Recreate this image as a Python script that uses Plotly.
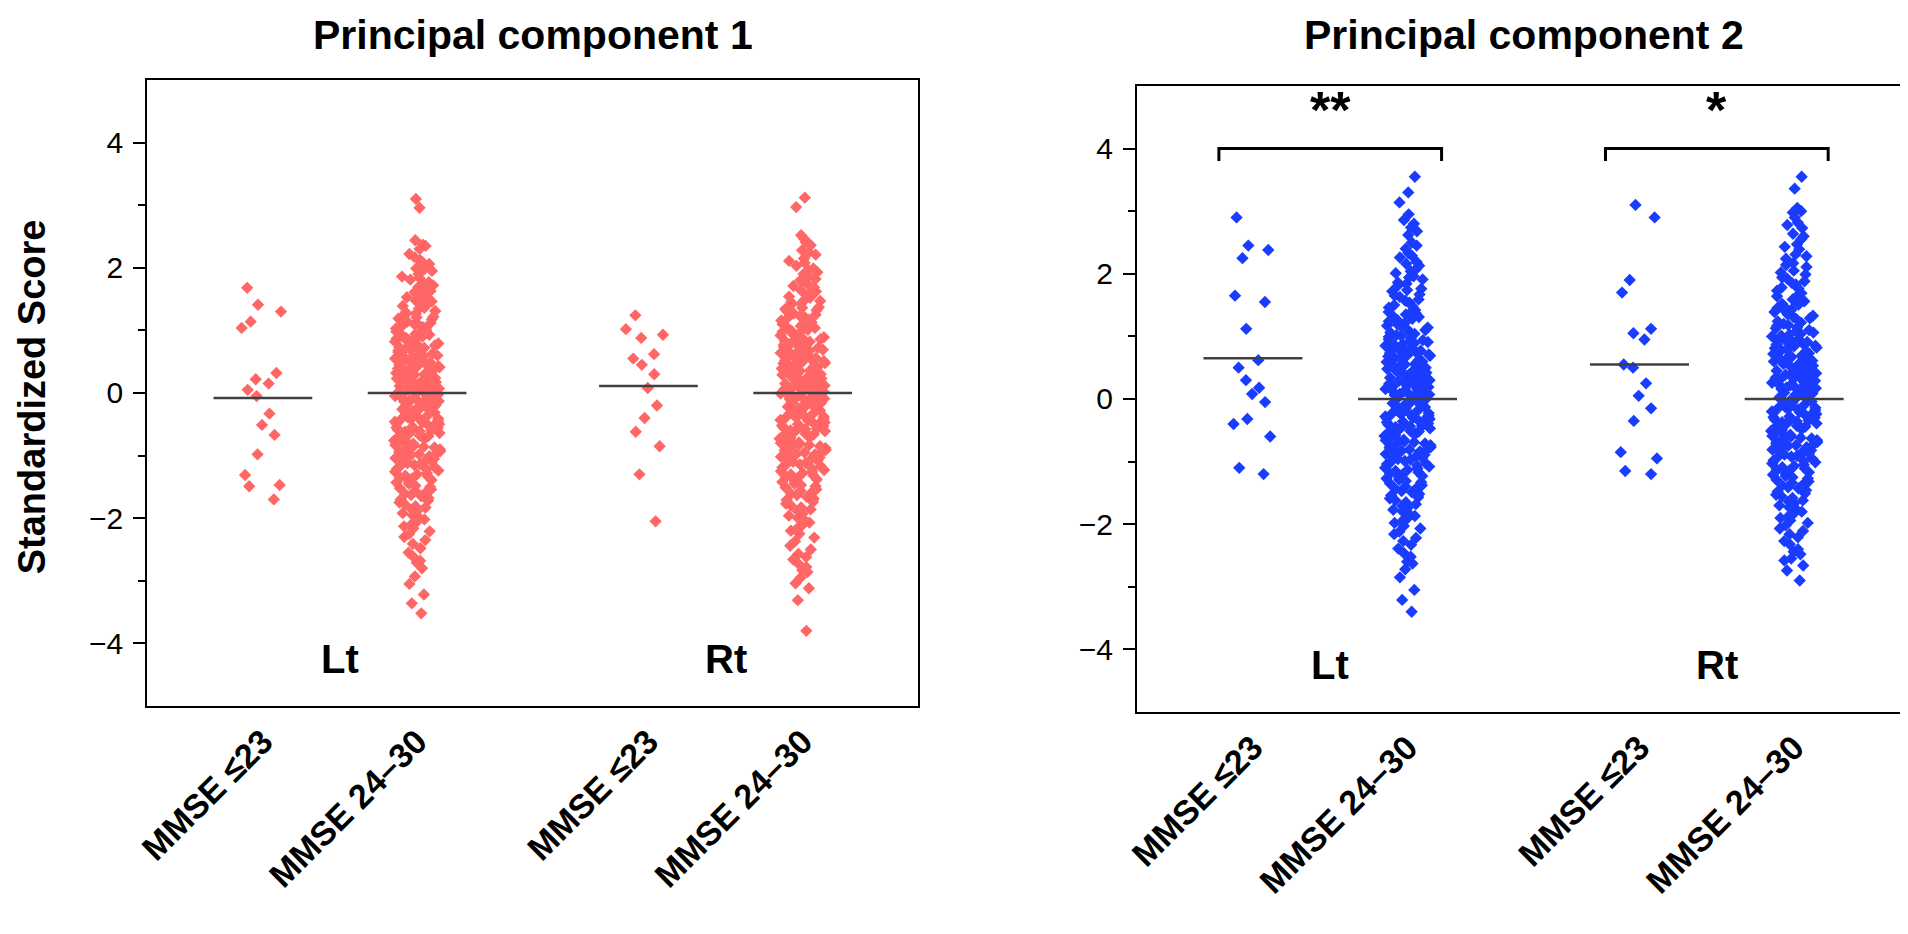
import plotly.graph_objects as go
from plotly.subplots import make_subplots

# group labels (per panel)
groups = ["MMSE ≤23", "MMSE 24–30", "MMSE ≤23", "MMSE 24–30"]
sides = ["Lt", "Rt"]
panel_titles = ["Principal component 1", "Principal component 2"]

# ---- Principal component 1 ----
pc1_lt_low = [1.68, 1.41, 1.30, 1.14, 1.04, 0.32, 0.22, 0.15, 0.05, -0.05,
              -0.33, -0.51, -0.67, -0.98, -1.31, -1.47, -1.49, -1.70]
pc1_lt_norm = [3.10, 2.96, 2.44, 2.37, 2.30, 2.22, 2.17, 2.10, 2.06, 1.99,
               1.95, 1.90, 1.84, 1.81, 1.76, 1.72, 1.66, 1.63, 1.59, 1.55,
               1.50, 1.48, 1.43, 1.39, 1.36, 1.31, 1.29, 1.25, 1.21, 1.18,
               1.16, 1.12, 1.08, 1.05, 1.03, 0.99, 0.96, 0.93, 0.91, 0.87,
               0.84, 0.82, 0.79, 0.76, 0.73, 0.71, 0.68, 0.66, 0.63, 0.60,
               0.58, 0.55, 0.53, 0.50, 0.48, 0.46, 0.43, 0.41, 0.38, 0.36,
               0.34, 0.31, 0.29, 0.27, 0.24, 0.22, 0.20, 0.17, 0.15, 0.13,
               0.11, 0.08, 0.06, 0.04, 0.02, -0.01, -0.03, -0.05, -0.07, -0.10,
               -0.12, -0.14, -0.16, -0.19, -0.21, -0.23, -0.26, -0.28, -0.30, -0.33,
               -0.35, -0.37, -0.40, -0.42, -0.45, -0.47, -0.50, -0.52, -0.55, -0.57,
               -0.60, -0.62, -0.65, -0.68, -0.70, -0.73, -0.76, -0.78, -0.81, -0.84,
               -0.87, -0.90, -0.93, -0.96, -0.99, -1.02, -1.05, -1.09, -1.12, -1.15,
               -1.19, -1.22, -1.26, -1.30, -1.33, -1.37, -1.41, -1.45, -1.50, -1.54,
               -1.58, -1.63, -1.68, -1.72, -1.78, -1.83, -1.89, -1.95, -2.02, -2.09,
               -2.16, -2.25, -2.35, -2.48, -2.62, -2.71, -2.80, -2.93, -3.05, -3.22,
               -3.36, -3.52,
               2.35, 2.12, 1.98, 1.86, 1.77, 1.69, 1.61, 1.53, 1.46, 1.41,
               1.35, 1.27, 1.22, 1.19, 1.14, 1.10, 1.06, 1.01, 0.98, 0.94,
               0.90, 0.88, 0.85, 0.81, 0.77, 0.74, 0.72, 0.69, 0.65, 0.62,
               0.59, 0.57, 0.54, 0.52, 0.49, 0.45, 0.42, 0.39, 0.37, 0.35,
               0.32, 0.30, 0.28, 0.25, 0.23, 0.21, 0.18, 0.16, 0.14, 0.12,
               0.09, 0.07, 0.05, 0.03, 0.01, -0.02, -0.04, -0.06, -0.08, -0.11,
               -0.13, -0.15, -0.18, -0.20, -0.22, -0.24, -0.27, -0.29, -0.31, -0.34,
               -0.36, -0.39, -0.41, -0.44, -0.46, -0.49, -0.51, -0.54, -0.56, -0.59,
               -0.61, -0.64, -0.67, -0.69, -0.72, -0.75, -0.77, -0.80, -0.83, -0.86,
               -0.89, -0.92, -0.95, -0.98, -1.01, -1.04, -1.07, -1.10, -1.14, -1.17,
               -1.21, -1.24, -1.28, -1.32, -1.35, -1.39, -1.43, -1.48, -1.52, -1.56,
               -1.61, -1.65, -1.70, -1.75, -1.81, -1.86, -1.92, -1.99, -2.06, -2.13,
               -2.21, -2.30, -2.41, -2.55, -2.68]
pc1_rt_low = [1.24, 1.02, 0.93, 0.88, 0.62, 0.55, 0.45, 0.30, 0.08, -0.20,
              -0.40, -0.62, -0.85, -1.30, -2.05]
pc1_rt_norm = [3.12, 2.97, 2.52, 2.41, 2.36, 2.28, 2.21, 2.15, 2.08, 2.03,
               1.97, 1.93, 1.87, 1.82, 1.78, 1.73, 1.69, 1.64, 1.60, 1.56,
               1.52, 1.49, 1.45, 1.41, 1.37, 1.34, 1.30, 1.27, 1.23, 1.20,
               1.17, 1.13, 1.10, 1.07, 1.04, 1.01, 0.98, 0.95, 0.92, 0.89,
               0.86, 0.83, 0.80, 0.77, 0.75, 0.72, 0.69, 0.66, 0.64, 0.61,
               0.59, 0.56, 0.53, 0.51, 0.48, 0.46, 0.43, 0.41, 0.39, 0.36,
               0.34, 0.31, 0.29, 0.26, 0.24, 0.22, 0.19, 0.17, 0.14, 0.12,
               0.10, 0.07, 0.05, 0.03, 0.00, -0.02, -0.04, -0.07, -0.09, -0.11,
               -0.14, -0.16, -0.18, -0.21, -0.23, -0.25, -0.28, -0.30, -0.33, -0.35,
               -0.38, -0.40, -0.43, -0.45, -0.48, -0.50, -0.53, -0.55, -0.58, -0.61,
               -0.63, -0.66, -0.69, -0.72, -0.74, -0.77, -0.80, -0.83, -0.86, -0.89,
               -0.92, -0.95, -0.98, -1.02, -1.05, -1.08, -1.12, -1.15, -1.19, -1.23,
               -1.26, -1.30, -1.34, -1.38, -1.42, -1.47, -1.51, -1.56, -1.61, -1.66,
               -1.71, -1.77, -1.83, -1.89, -1.96, -2.03, -2.11, -2.20, -2.31, -2.44,
               -2.57, -2.66, -2.78, -2.86, -2.95, -3.04, -3.12, -3.31, -3.80,
               2.46, 2.25, 2.11, 1.99, 1.90, 1.80, 1.71, 1.62, 1.54, 1.47,
               1.43, 1.36, 1.32, 1.25, 1.21, 1.16, 1.11, 1.08, 1.03, 0.99,
               0.96, 0.91, 0.87, 0.84, 0.82, 0.78, 0.74, 0.71, 0.67, 0.65,
               0.62, 0.58, 0.55, 0.52, 0.50, 0.47, 0.44, 0.42, 0.38, 0.35,
               0.33, 0.30, 0.27, 0.25, 0.23, 0.20, 0.18, 0.15, 0.13, 0.11,
               0.08, 0.06, 0.04, 0.02, -0.01, -0.03, -0.05, -0.08, -0.10, -0.12,
               -0.15, -0.17, -0.19, -0.22, -0.24, -0.26, -0.29, -0.31, -0.34, -0.36,
               -0.39, -0.42, -0.44, -0.47, -0.49, -0.52, -0.54, -0.57, -0.60, -0.62,
               -0.65, -0.68, -0.70, -0.73, -0.76, -0.79, -0.82, -0.85, -0.88, -0.91,
               -0.94, -0.97, -1.00, -1.03, -1.07, -1.10, -1.14, -1.17, -1.21, -1.25,
               -1.28, -1.32, -1.36, -1.40, -1.45, -1.49, -1.54, -1.59, -1.63, -1.69,
               -1.74, -1.80, -1.86, -1.93, -2.00, -2.07, -2.15, -2.25, -2.37, -2.50,
               -2.62, -2.73, -2.83]
pc1_means = [-0.08, 0.0, 0.11, 0.0]

# ---- Principal component 2 ----
pc2_lt_low = [2.90, 2.45, 2.38, 2.25, 1.65, 1.55, 1.12, 0.62, 0.50, 0.30,
              0.18, 0.08, -0.05, -0.32, -0.40, -0.60, -1.10, -1.20]
pc2_lt_norm = [3.55, 3.30, 3.14, 2.86, 2.80, 2.74, 2.62, 2.50, 2.40, 2.33,
               2.26, 2.19, 2.13, 2.07, 2.01, 1.96, 1.91, 1.86, 1.81, 1.76,
               1.72, 1.67, 1.63, 1.59, 1.54, 1.50, 1.46, 1.42, 1.39, 1.35,
               1.31, 1.28, 1.24, 1.21, 1.17, 1.14, 1.10, 1.07, 1.04, 1.01,
               0.97, 0.94, 0.91, 0.88, 0.85, 0.82, 0.79, 0.76, 0.73, 0.70,
               0.68, 0.65, 0.62, 0.59, 0.56, 0.54, 0.51, 0.48, 0.46, 0.43,
               0.40, 0.38, 0.35, 0.33, 0.30, 0.27, 0.25, 0.22, 0.20, 0.17,
               0.15, 0.12, 0.10, 0.07, 0.05, 0.02, 0.00, -0.03, -0.05, -0.08,
               -0.10, -0.13, -0.15, -0.18, -0.20, -0.23, -0.26, -0.28, -0.31, -0.33,
               -0.36, -0.39, -0.41, -0.44, -0.47, -0.49, -0.52, -0.55, -0.58, -0.61,
               -0.63, -0.66, -0.69, -0.72, -0.75, -0.78, -0.81, -0.84, -0.88, -0.91,
               -0.94, -0.97, -1.01, -1.04, -1.08, -1.11, -1.15, -1.19, -1.23, -1.27,
               -1.31, -1.35, -1.40, -1.44, -1.49, -1.54, -1.59, -1.65, -1.71, -1.77,
               -1.84, -1.91, -1.98, -2.07, -2.16, -2.27, -2.39, -2.52, -2.63, -2.72,
               -2.85, -3.05, -3.21, -3.40,
               2.95, 2.68, 2.45, 2.29, 2.16, 2.04, 1.94, 1.84, 1.74, 1.65,
               1.57, 1.48, 1.41, 1.37, 1.30, 1.26, 1.19, 1.16, 1.12, 1.06,
               1.02, 0.99, 0.95, 0.92, 0.89, 0.86, 0.83, 0.80, 0.77, 0.74,
               0.71, 0.69, 0.66, 0.63, 0.60, 0.58, 0.55, 0.52, 0.50, 0.47,
               0.44, 0.42, 0.39, 0.36, 0.34, 0.31, 0.29, 0.26, 0.24, 0.21,
               0.19, 0.16, 0.13, 0.11, 0.08, 0.06, 0.03, 0.01, -0.02, -0.04,
               -0.07, -0.09, -0.12, -0.14, -0.17, -0.19, -0.22, -0.24, -0.27, -0.30,
               -0.32, -0.35, -0.37, -0.40, -0.43, -0.45, -0.48, -0.51, -0.54, -0.56,
               -0.59, -0.62, -0.65, -0.68, -0.71, -0.74, -0.77, -0.80, -0.83, -0.86,
               -0.89, -0.93, -0.96, -0.99, -1.03, -1.06, -1.10, -1.13, -1.17, -1.21,
               -1.25, -1.29, -1.33, -1.38, -1.42, -1.47, -1.52, -1.57, -1.62, -1.68,
               -1.74, -1.80, -1.87, -1.95, -2.03, -2.12, -2.22, -2.33, -2.46, -2.60]
pc2_rt_low = [3.10, 2.90, 1.90, 1.70, 1.12, 1.05, 0.95, 0.55, 0.50, 0.25,
              0.05, -0.15, -0.35, -0.85, -0.95, -1.15, -1.20]
pc2_rt_norm = [3.55, 3.36, 3.05, 2.98, 2.90, 2.82, 2.73, 2.64, 2.55, 2.47,
               2.39, 2.31, 2.24, 2.17, 2.11, 2.05, 1.99, 1.94, 1.88, 1.83,
               1.78, 1.73, 1.69, 1.64, 1.60, 1.56, 1.51, 1.47, 1.43, 1.39,
               1.35, 1.31, 1.28, 1.24, 1.20, 1.17, 1.13, 1.10, 1.06, 1.03,
               1.00, 0.96, 0.93, 0.90, 0.87, 0.84, 0.81, 0.78, 0.75, 0.72,
               0.69, 0.66, 0.63, 0.60, 0.57, 0.55, 0.52, 0.49, 0.46, 0.44,
               0.41, 0.38, 0.36, 0.33, 0.30, 0.28, 0.25, 0.22, 0.20, 0.17,
               0.14, 0.12, 0.09, 0.07, 0.04, 0.01, -0.01, -0.04, -0.06, -0.09,
               -0.12, -0.14, -0.17, -0.20, -0.22, -0.25, -0.28, -0.30, -0.33, -0.36,
               -0.39, -0.41, -0.44, -0.47, -0.50, -0.53, -0.56, -0.59, -0.62, -0.65,
               -0.68, -0.71, -0.74, -0.77, -0.81, -0.84, -0.87, -0.91, -0.94, -0.98,
               -1.01, -1.05, -1.09, -1.13, -1.17, -1.21, -1.25, -1.29, -1.34, -1.38,
               -1.43, -1.48, -1.53, -1.58, -1.64, -1.70, -1.76, -1.83, -1.90, -1.98,
               -2.07, -2.16, -2.27, -2.40, -2.48, -2.58, -2.66, -2.74, -2.90,
               3.00, 2.78, 2.60, 2.43, 2.28, 2.14, 2.02, 1.92, 1.85, 1.76,
               1.67, 1.59, 1.52, 1.45, 1.41, 1.33, 1.29, 1.22, 1.18, 1.14,
               1.08, 1.04, 1.01, 0.97, 0.94, 0.91, 0.88, 0.85, 0.82, 0.79,
               0.76, 0.73, 0.70, 0.67, 0.64, 0.61, 0.58, 0.56, 0.53, 0.50,
               0.47, 0.45, 0.42, 0.39, 0.37, 0.34, 0.31, 0.29, 0.26, 0.23,
               0.21, 0.18, 0.16, 0.13, 0.10, 0.08, 0.05, 0.02, 0.00, -0.03,
               -0.05, -0.08, -0.11, -0.13, -0.16, -0.18, -0.21, -0.24, -0.26, -0.29,
               -0.32, -0.34, -0.37, -0.40, -0.43, -0.45, -0.48, -0.51, -0.54, -0.57,
               -0.60, -0.63, -0.66, -0.69, -0.72, -0.75, -0.79, -0.82, -0.85, -0.89,
               -0.92, -0.96, -0.99, -1.03, -1.07, -1.11, -1.15, -1.19, -1.23, -1.27,
               -1.32, -1.36, -1.41, -1.46, -1.51, -1.56, -1.62, -1.67, -1.73, -1.80,
               -1.87, -1.94, -2.02, -2.11, -2.21, -2.32, -2.44, -2.55]
pc2_means = [0.65, 0.0, 0.55, 0.0]

# significance brackets (PC2 only): (group a, group b, label)
pc2_sig = [(0, 1, "**"), (2, 3, "*")]
sig_height = 4.0

FONT = "Liberation Sans, Arial, sans-serif"
GROUP_POS = [1.0, 2.0, 3.5, 4.5]
SIDE_POS = [1.5, 4.0]

panels = [
    dict(values=[pc1_lt_low, pc1_lt_norm, pc1_rt_low, pc1_rt_norm],
         means=pc1_means, color="#ff6666", sig=[]),
    dict(values=[pc2_lt_low, pc2_lt_norm, pc2_rt_low, pc2_rt_norm],
         means=pc2_means, color="#1a3cff", sig=pc2_sig),
]

fig = make_subplots(rows=1, cols=2)

for col, panel in enumerate(panels, start=1):
    xa = "x" if col == 1 else "x2"
    ya = "y" if col == 1 else "y2"
    for pos, vals in zip(GROUP_POS, panel["values"]):
        fig.add_trace(
            go.Box(
                y=vals,
                x=[pos] * len(vals),
                boxpoints="all",
                jitter=0.75,
                pointpos=0,
                width=0.4,
                fillcolor="rgba(0,0,0,0)",
                line=dict(color="rgba(0,0,0,0)", width=0),
                marker=dict(symbol="diamond", size=9.5, color=panel["color"]),
                hoveron="points",
                showlegend=False,
            ),
            row=1, col=col,
        )

    # mean lines
    mx, my = [], []
    for pos, m in zip(GROUP_POS, panel["means"]):
        mx += [pos - 0.32, pos + 0.32, None]
        my += [m, m, None]
    fig.add_trace(
        go.Scatter(x=mx, y=my, mode="lines",
                   line=dict(color="#404040", width=2.5),
                   showlegend=False, hoverinfo="skip"),
        row=1, col=col,
    )

    # significance brackets
    for a, b, label in panel["sig"]:
        x0 = GROUP_POS[a] - 0.22
        x1 = GROUP_POS[b] + 0.22
        fig.add_trace(
            go.Scatter(x=[x0, x0, x1, x1],
                       y=[sig_height - 0.2, sig_height, sig_height, sig_height - 0.2],
                       mode="lines", line=dict(color="black", width=3),
                       showlegend=False, hoverinfo="skip"),
            row=1, col=col,
        )
        fig.add_annotation(
            x=(GROUP_POS[a] + GROUP_POS[b]) / 2, y=sig_height + 0.12,
            xref=xa, yref=ya, yanchor="bottom", xanchor="center",
            text=f"<b>{label}</b>", showarrow=False,
            font=dict(family=FONT, size=52, color="black"),
        )

    # Lt / Rt labels inside the plot
    for sp, side in zip(SIDE_POS, sides):
        fig.add_annotation(
            x=sp, y=-4.25, xref=xa, yref=ya, xanchor="center",
            text=f"<b>{side}</b>", showarrow=False,
            font=dict(family=FONT, size=40, color="black"),
        )

axis_common = dict(
    showline=True, linecolor="black", linewidth=2, mirror=True,
    showgrid=False, zeroline=False,
)

fig.update_xaxes(
    range=[0.25, 5.25],
    tickmode="array", tickvals=GROUP_POS,
    ticktext=[f"<b>{g}</b>" for g in groups],
    tickangle=-45, ticks="",
    tickfont=dict(family=FONT, size=34, color="black"),
    **axis_common,
)
fig.update_yaxes(
    range=[-5, 5],
    tickmode="array", tickvals=[-4, -2, 0, 2, 4],
    ticks="outside", ticklen=12, tickwidth=2, tickcolor="black",
    minor=dict(tickmode="array", tickvals=[-3, -1, 1, 3], ticks="outside",
               ticklen=7, tickwidth=2, tickcolor="black"),
    tickfont=dict(family=FONT, size=30, color="black"),
    ticklabelstandoff=4,
    **axis_common,
)

fig.update_layout(
    width=1908, height=934,
    margin=dict(l=0, r=0, t=0, b=0),
    plot_bgcolor="white", paper_bgcolor="white",
    boxmode="overlay",
    xaxis=dict(domain=[0.0671, 0.4738]),
    xaxis2=dict(domain=[0.5891, 0.9969]),
    yaxis=dict(domain=[0.2527, 0.9229]),
    yaxis2=dict(domain=[0.2463, 0.9165]),
)

# panel titles and shared y-axis title
for xc, title in zip([0.2705, 0.7930], panel_titles):
    fig.add_annotation(
        x=xc, y=0.998, xref="paper", yref="paper",
        xanchor="center", yanchor="top",
        text=f"<b>{title}</b>", showarrow=False,
        font=dict(family=FONT, size=41, color="black"),
    )
fig.add_annotation(
    x=0.0062, y=0.584, xref="paper", yref="paper", textangle=-90,
    xanchor="center", yanchor="middle",
    text="<b>Standardized Score</b>", showarrow=False,
    font=dict(family=FONT, size=38, color="black"),
)

fig.write_html("out.html")
